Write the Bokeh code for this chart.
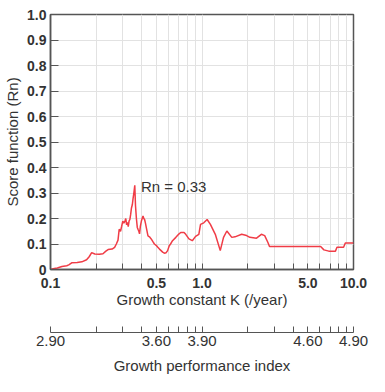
from bokeh.plotting import figure
from bokeh.models import LogAxis, FixedTicker, CustomJSTickFormatter, Label, Range1d
from bokeh.embed import file_html
from bokeh.resources import INLINE

# ---- data ----
k_values = [0.100, 0.106, 0.111, 0.119, 0.128, 0.132, 0.138, 0.150, 0.161, 0.173,
            0.180, 0.187, 0.196, 0.210, 0.222, 0.232, 0.240, 0.255, 0.265, 0.272,
            0.279, 0.284, 0.290, 0.295, 0.300, 0.305, 0.310, 0.314, 0.318, 0.322,
            0.326, 0.330, 0.334, 0.338, 0.342, 0.347, 0.351, 0.355, 0.360, 0.364,
            0.369, 0.374, 0.378, 0.383, 0.387, 0.392, 0.398, 0.408, 0.413, 0.418,
            0.424, 0.429, 0.440, 0.450, 0.462, 0.473, 0.485, 0.498, 0.511, 0.524,
            0.537, 0.550, 0.564, 0.580, 0.593, 0.608, 0.620, 0.639, 0.672, 0.706,
            0.724, 0.761, 0.781, 0.820, 0.863, 0.907, 0.953, 0.978, 1.027, 1.081,
            1.136, 1.224, 1.320, 1.387, 1.459, 1.573, 1.652, 1.828, 1.970, 2.070,
            2.290, 2.466, 2.593, 2.723, 2.790, 6.070, 6.380, 6.870, 7.600, 7.780,
            8.600, 8.830, 10.00]
rn_values = [0.000, 0.004, 0.006, 0.012, 0.015, 0.018, 0.026, 0.027, 0.030, 0.038,
             0.050, 0.066, 0.061, 0.060, 0.062, 0.072, 0.078, 0.080, 0.087, 0.100,
             0.115, 0.158, 0.150, 0.170, 0.190, 0.182, 0.190, 0.200, 0.175, 0.185,
             0.168, 0.190, 0.196, 0.215, 0.240, 0.255, 0.280, 0.300, 0.330, 0.250,
             0.200, 0.165, 0.158, 0.150, 0.140, 0.170, 0.190, 0.210, 0.200, 0.196,
             0.180, 0.164, 0.132, 0.128, 0.120, 0.110, 0.100, 0.095, 0.087, 0.080,
             0.074, 0.068, 0.064, 0.066, 0.074, 0.093, 0.100, 0.113, 0.126, 0.140,
             0.145, 0.145, 0.138, 0.120, 0.113, 0.130, 0.138, 0.177, 0.183, 0.196,
             0.177, 0.138, 0.074, 0.126, 0.151, 0.126, 0.128, 0.138, 0.133, 0.126,
             0.123, 0.138, 0.133, 0.106, 0.090, 0.090, 0.077, 0.072, 0.072, 0.087,
             0.087, 0.104, 0.104]

x_major_ticks = [0.1, 0.5, 1.0, 5.0, 10.0]
x_minor_ticks = [0.2, 0.3, 0.4, 0.6, 0.7, 0.8, 0.9, 2.0, 3.0, 4.0, 6.0, 7.0, 8.0, 9.0]
x_tick_labels = ["0.1", "0.5", "1.0", "5.0", "10.0"]
gpi_tick_labels = ["2.90", "3.60", "3.90", "4.60", "4.90"]
y_ticks = [0.0, 0.1, 0.2, 0.3, 0.4, 0.5, 0.6, 0.7, 0.8, 0.9, 1.0]
y_tick_labels = ["0", "0.1", "0.2", "0.3", "0.4", "0.5", "0.6", "0.7", "0.8", "0.9", "1.0"]
peak_text = "Rn = 0.33"
peak_k = 0.395
peak_rn = 0.327

FONT = "Liberation Sans"
TXT = "#333333"
AX = "#555555"
GRID = "#e2e2e2"

p = figure(width=369, height=376, x_axis_type="log",
           x_range=Range1d(0.1, 10.0), y_range=Range1d(0.0, 1.0),
           output_backend="svg", toolbar_location=None,
           min_border_left=50, min_border_right=16, min_border_top=14,
           min_border_bottom=104)
p.background_fill_color = "white"
p.border_fill_color = "white"
p.outline_line_color = AX
p.outline_line_width = 1.5

log_fmt_code = """
let idx = -1;
for (let i = 0; i < tvals.length; i++) {
  if (Math.abs(Math.log10(tvals[i]) - Math.log10(tick)) < 1e-6) { idx = i; }
}
return idx >= 0 ? tlabels[idx] : "";
"""
lin_fmt_code = """
let idx = -1;
for (let i = 0; i < tvals.length; i++) {
  if (Math.abs(tvals[i] - tick) < 1e-9) { idx = i; }
}
return idx >= 0 ? tlabels[idx] : "";
"""

# main x axis
xa = p.xaxis[0]
xa.ticker = FixedTicker(ticks=x_major_ticks, minor_ticks=x_minor_ticks)
xa.formatter = CustomJSTickFormatter(args=dict(tvals=x_major_ticks, tlabels=x_tick_labels), code=log_fmt_code)
xa.axis_label = "Growth constant K (/year)"
xa.major_tick_in = 6
xa.major_tick_out = 0
xa.minor_tick_in = 6
xa.minor_tick_out = 0
xa.major_tick_line_color = AX
xa.minor_tick_line_color = AX
xa.axis_line_color = AX
xa.axis_line_width = 1.5
xa.major_label_text_font = FONT
xa.major_label_text_font_size = "14px"
xa.major_label_text_font_style = "bold"
xa.major_label_text_color = TXT
xa.major_label_standoff = 8
xa.axis_label_text_font = FONT
xa.axis_label_text_font_size = "15px"
xa.axis_label_text_font_style = "normal"
xa.axis_label_text_color = TXT
xa.axis_label_standoff = 0

# y axis
ya = p.yaxis[0]
ya.ticker = FixedTicker(ticks=y_ticks)
ya.formatter = CustomJSTickFormatter(args=dict(tvals=y_ticks, tlabels=y_tick_labels), code=lin_fmt_code)
ya.axis_label = "Score function (Rn)"
ya.major_tick_in = 8
ya.major_tick_out = 0
ya.minor_tick_line_color = None
ya.major_tick_line_color = AX
ya.axis_line_color = AX
ya.axis_line_width = 1.5
ya.major_label_text_font = FONT
ya.major_label_text_font_size = "14px"
ya.major_label_text_font_style = "bold"
ya.major_label_text_color = TXT
ya.major_label_standoff = 4
ya.axis_label_text_font = FONT
ya.axis_label_text_font_size = "15px"
ya.axis_label_text_font_style = "normal"
ya.axis_label_text_color = TXT
ya.axis_label_standoff = 3

# grids
p.xgrid.ticker = FixedTicker(ticks=x_major_ticks + x_minor_ticks)
p.xgrid.grid_line_color = GRID
p.ygrid.grid_line_color = GRID

# spacer axis between the two bottom axes
spacer = LogAxis(ticker=FixedTicker(ticks=[]), axis_line_color=None,
                 major_tick_in=0, major_tick_out=0, minor_tick_in=0, minor_tick_out=0,
                 major_label_standoff=0, axis_label=" ",
                 axis_label_text_font_size="2px", axis_label_standoff=17)
p.add_layout(spacer, "below")

# growth performance index axis
gpi = LogAxis(ticker=FixedTicker(ticks=x_major_ticks, minor_ticks=x_minor_ticks),
              formatter=CustomJSTickFormatter(args=dict(tvals=x_major_ticks, tlabels=gpi_tick_labels), code=log_fmt_code),
              axis_label="Growth performance index")
gpi.major_tick_in = 6
gpi.major_tick_out = 0
gpi.minor_tick_in = 6
gpi.minor_tick_out = 0
gpi.major_tick_line_color = AX
gpi.minor_tick_line_color = AX
gpi.axis_line_color = AX
gpi.axis_line_width = 1.2
gpi.major_label_text_font = FONT
gpi.major_label_text_font_size = "15px"
gpi.major_label_text_color = TXT
gpi.major_label_standoff = 3
gpi.axis_label_text_font = FONT
gpi.axis_label_text_font_size = "15px"
gpi.axis_label_text_font_style = "normal"
gpi.axis_label_text_color = TXT
gpi.axis_label_standoff = 8
p.add_layout(gpi, "below")

p.line(k_values, rn_values, line_color="#f03c46", line_width=1.5)

p.add_layout(Label(x=peak_k, y=peak_rn, text=peak_text, text_font=FONT,
                   text_font_size="15px", text_color=TXT, text_baseline="middle"))

open("out.html", "w").write(file_html(p, INLINE))
